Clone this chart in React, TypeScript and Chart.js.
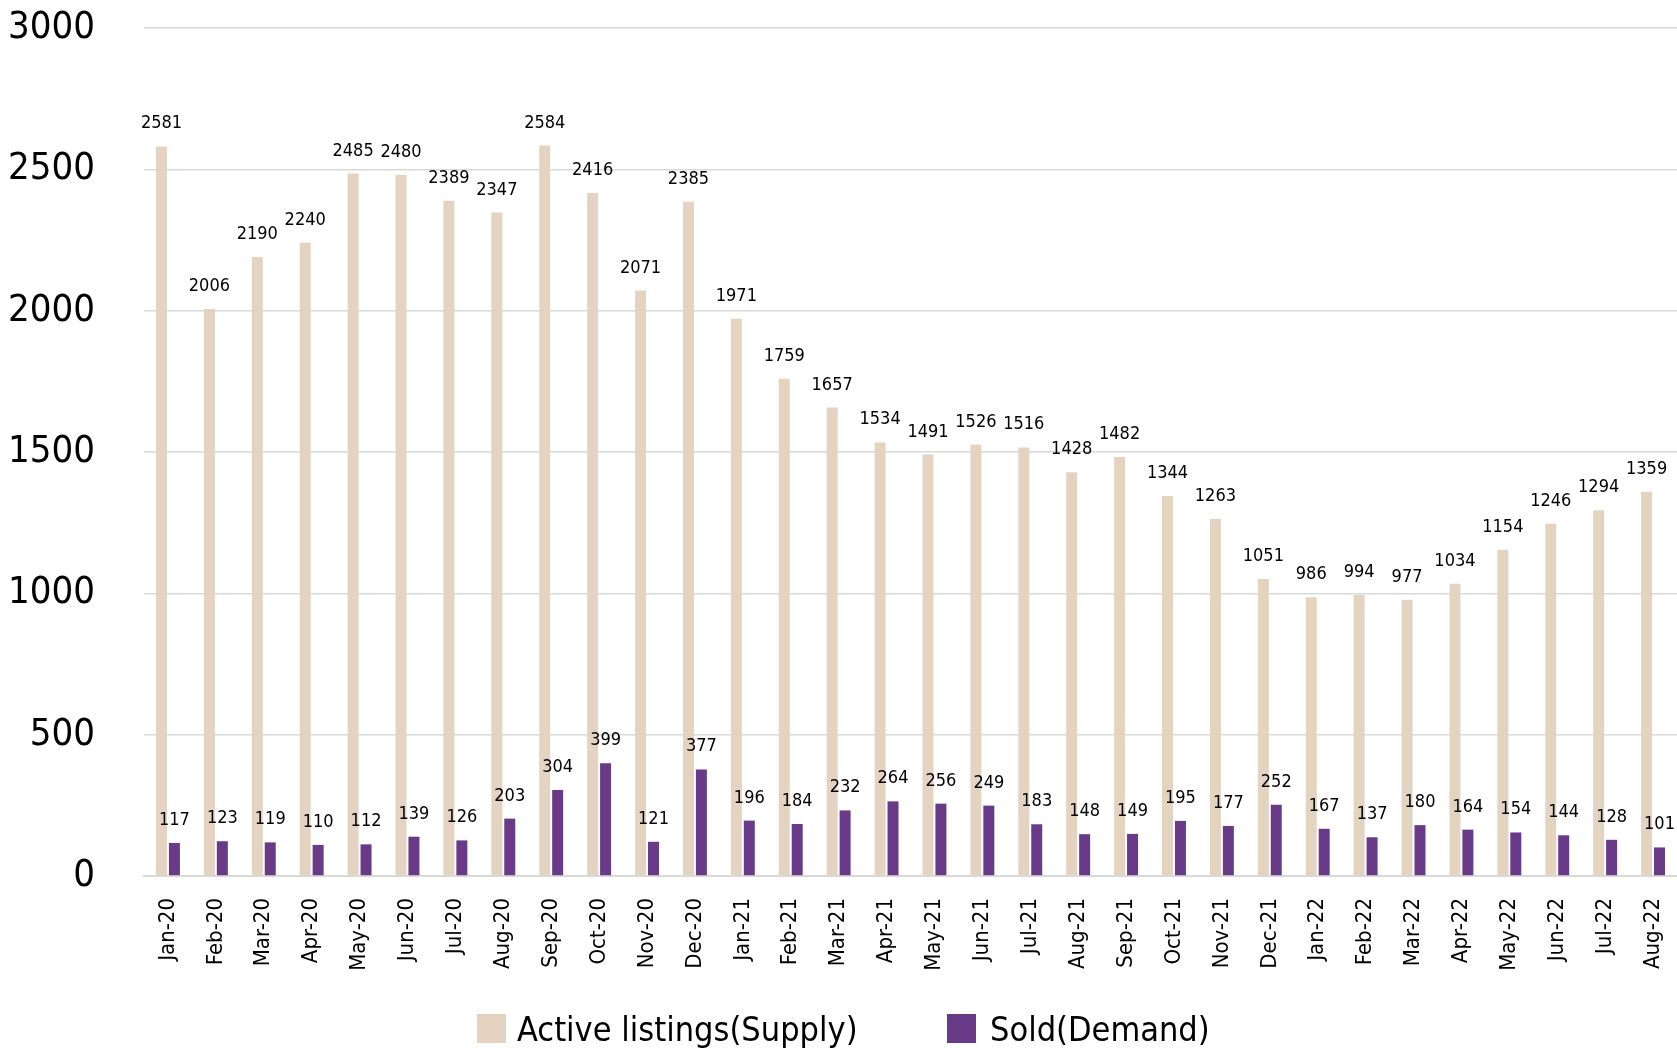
import React, { useEffect, useRef } from "react";
import { Chart, registerables } from "chart.js";

Chart.register(...registerables);

const months = [
  "Jan-20", "Feb-20", "Mar-20", "Apr-20", "May-20", "Jun-20", "Jul-20", "Aug-20",
  "Sep-20", "Oct-20", "Nov-20", "Dec-20", "Jan-21", "Feb-21", "Mar-21", "Apr-21",
  "May-21", "Jun-21", "Jul-21", "Aug-21", "Sep-21", "Oct-21", "Nov-21", "Dec-21",
  "Jan-22", "Feb-22", "Mar-22", "Apr-22", "May-22", "Jun-22", "Jul-22", "Aug-22",
];

const supply = [
  2581, 2006, 2190, 2240, 2485, 2480, 2389, 2347, 2584, 2416, 2071, 2385, 1971, 1759, 1657, 1534,
  1491, 1526, 1516, 1428, 1482, 1344, 1263, 1051, 986, 994, 977, 1034, 1154, 1246, 1294, 1359,
];

const sold = [
  117, 123, 119, 110, 112, 139, 126, 203, 304, 399, 121, 377, 196, 184, 232, 264,
  256, 249, 183, 148, 149, 195, 177, 252, 167, 137, 180, 164, 154, 144, 128, 101,
];

const yTicks = [0, 500, 1000, 1500, 2000, 2500, 3000];

const seriesNames = ["Active listings(Supply)", "Sold(Demand)"];
const seriesColors = ["#E5D3C2", "#683A87"];

const FONT = "'DejaVu Sans Condensed', 'Liberation Sans Narrow', 'Roboto', sans-serif";

const valueLabels = {
  id: "valueLabels",
  afterDatasetsDraw(chart: any) {
    const ctx = chart.ctx;
    ctx.save();
    ctx.font = `18px ${FONT}`;
    ctx.fillStyle = "#000000";
    ctx.textAlign = "center";
    ctx.textBaseline = "alphabetic";
    chart.data.datasets.forEach((ds: any, di: number) => {
      const meta = chart.getDatasetMeta(di);
      meta.data.forEach((el: any, i: number) => {
        ctx.fillText(String(ds.data[i]), el.x, el.y - 18);
      });
    });
    ctx.restore();
  },
};

export default function App() {
  const ref = useRef<HTMLCanvasElement | null>(null);

  useEffect(() => {
    if (!ref.current) return;
    const chart = new Chart(ref.current, {
      type: "bar",
      data: {
        labels: months,
        datasets: [
          {
            label: seriesNames[0],
            data: supply,
            backgroundColor: seriesColors[0],
            categoryPercentage: 0.54,
            barPercentage: 0.85,
          },
          {
            label: seriesNames[1],
            data: sold,
            backgroundColor: seriesColors[1],
            categoryPercentage: 0.54,
            barPercentage: 0.85,
          },
        ],
      },
      options: {
        responsive: false,
        animation: false,
        layout: { padding: { left: 0, right: 0, top: 28, bottom: 58 } },
        plugins: {
          legend: { display: false },
          tooltip: { enabled: false },
          title: { display: false },
        },
        scales: {
          x: {
            grid: { display: false, drawTicks: false },
            border: { display: true, color: "#D9D9D9", width: 2 },
            ticks: {
              autoSkip: false,
              maxRotation: 90,
              minRotation: 90,
              padding: 22,
              color: "#000000",
              font: { family: FONT, size: 22 },
            },
            afterFit: (s: any) => {
              s.height = 120;
              s.paddingLeft = 0;
              s.paddingRight = 0;
              s.paddingTop = 0;
              s.paddingBottom = 0;
            },
          },
          y: {
            min: 0,
            max: 3000,
            afterBuildTicks: (s: any) => {
              s.ticks = yTicks.map((v) => ({ value: v }));
            },
            grid: { color: "#D9D9D9", lineWidth: 1.5, drawTicks: false },
            border: { display: false },
            ticks: {
              padding: 49,
              color: "#000000",
              font: { family: FONT, size: 38 },
              callback: (v: any) => String(v),
            },
            afterFit: (s: any) => {
              s.width = 144;
              s.paddingTop = 0;
              s.paddingBottom = 0;
              s.paddingLeft = 0;
              s.paddingRight = 0;
            },
          },
        },
      },
      plugins: [valueLabels],
    });
    return () => chart.destroy();
  }, []);

  const textStyle: React.CSSProperties = {
    position: "absolute",
    top: 1012,
    fontFamily: FONT,
    fontSize: 34,
    lineHeight: "35px",
    color: "#000000",
    whiteSpace: "nowrap",
  };

  return (
    <div style={{ position: "fixed", left: 0, top: 0, width: 1677, height: 1054, background: "#ffffff", overflow: "hidden" }}>
      <canvas ref={ref} width={1677} height={1054} style={{ display: "block" }} />
      <div style={{ position: "absolute", left: 477, top: 1014, width: 29, height: 29, background: seriesColors[0] }} />
      <span style={{ ...textStyle, left: 517 }}>{seriesNames[0]}</span>
      <div style={{ position: "absolute", left: 947, top: 1014, width: 29, height: 29, background: seriesColors[1] }} />
      <span style={{ ...textStyle, left: 990 }}>{seriesNames[1]}</span>
    </div>
  );
}
